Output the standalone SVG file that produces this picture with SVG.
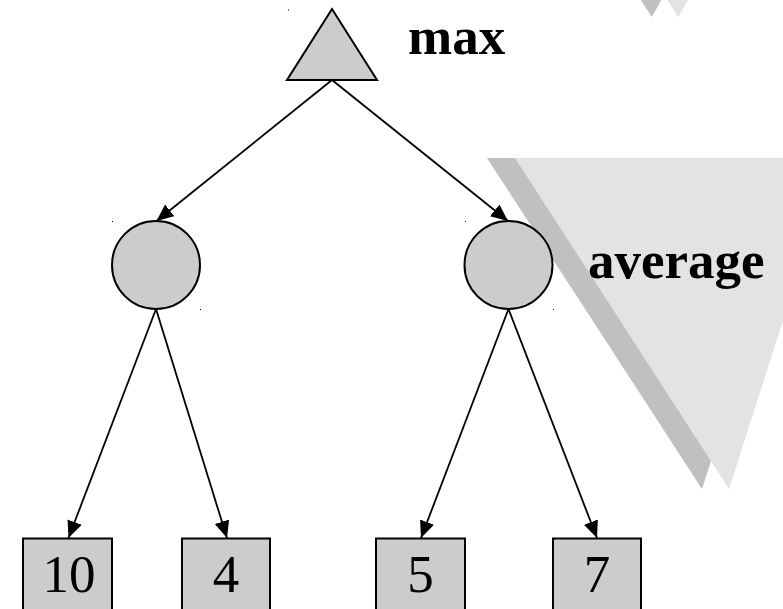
<svg xmlns="http://www.w3.org/2000/svg" width="783" height="609" viewBox="0 0 783 609">
  <style>
    .shade { fill: #c0c0c0; }
    .light { fill: #e3e3e3; }
    .node { fill: #cccccc; stroke: #000; stroke-width: 2; }
    .edge { stroke: #000; stroke-width: 1.8; fill: none; marker-end: url(#arrow); }
    .label { font-family: "Liberation Serif", "Times New Roman", serif; font-weight: bold; font-size: 53px; fill: #000; }
    .val { font-family: "Liberation Serif", "Times New Roman", serif; font-size: 53px; fill: #000; text-anchor: middle; }
    .dot { fill: #000; }
  </style>
  <defs>
    <marker id="arrow" markerUnits="userSpaceOnUse" markerWidth="20" markerHeight="16" refX="17" refY="7.5" orient="auto">
      <path d="M0,0 L17,7.5 L0,15 z" fill="#000"/>
    </marker>
  </defs>

  <!-- background decorative triangles -->
  <g id="decor-top">
    <polygon class="shade" points="630,-17 671,-17 651.7,17"/>
    <polygon class="light" points="657,-17 698,-17 678.3,17"/>
  </g>
  <g id="decor-average">
    <polygon class="shade" points="487,158 808,158 702,489"/>
    <polygon class="light" points="515,158 835,158 729,489"/>
  </g>

  <g id="connectors">
    <line class="edge" x1="332" y1="80" x2="156.5" y2="221"/>
    <line class="edge" x1="332" y1="80" x2="508" y2="221"/>
    <line class="edge" x1="156" y1="309" x2="68.5" y2="538"/>
    <line class="edge" x1="156" y1="309" x2="227" y2="538"/>
    <line class="edge" x1="508.5" y1="309" x2="421" y2="538"/>
    <line class="edge" x1="508.5" y1="309" x2="597" y2="538"/>
  </g>

  <g id="max-node">
    <polygon class="node" points="332,9 287,80 377,80"/>
    <text class="label" x="408" y="54">max</text>
  </g>

  <g id="avg-left">
    <circle class="node" cx="156" cy="265" r="44"/>
  </g>
  <g id="avg-right">
    <circle class="node" cx="508.5" cy="265" r="44"/>
  </g>
  <g id="average-label">
    <text class="label" x="588" y="278">average</text>
  </g>

  <g id="leaf-10">
    <rect class="node" x="23" y="538.5" width="89" height="75"/>
    <text class="val" x="69" y="592">10</text>
  </g>
  <g id="leaf-4">
    <rect class="node" x="182" y="538.5" width="88" height="75"/>
    <text class="val" x="226" y="592">4</text>
  </g>
  <g id="leaf-5">
    <rect class="node" x="376" y="538.5" width="89" height="75"/>
    <text class="val" x="420.5" y="592">5</text>
  </g>
  <g id="leaf-7">
    <rect class="node" x="553" y="538.5" width="88" height="75"/>
    <text class="val" x="597" y="592">7</text>
  </g>

  <g id="marks">
    <rect class="dot" x="288" y="9.5" width="1" height="1"/>
    <rect class="dot" x="112" y="221" width="1" height="1"/>
    <rect class="dot" x="200" y="309" width="1" height="1"/>
    <rect class="dot" x="465" y="221" width="1" height="1"/>
    <rect class="dot" x="553" y="309" width="1" height="1"/>
  </g>
</svg>
